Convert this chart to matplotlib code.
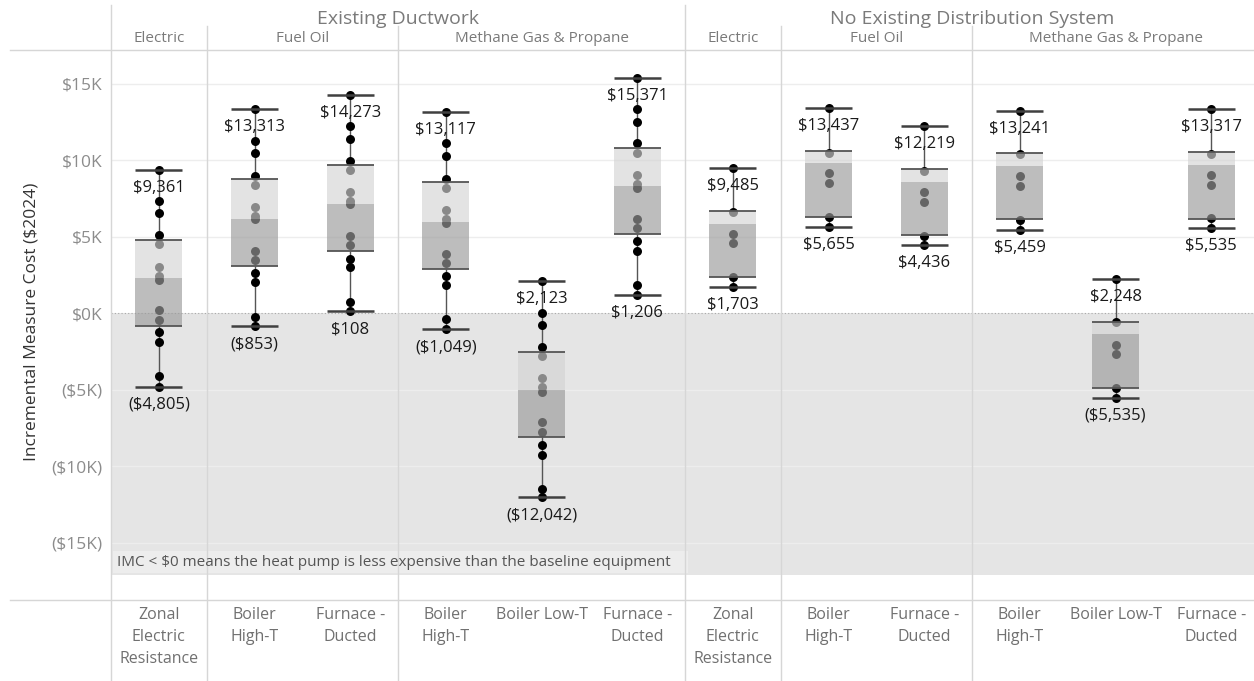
import matplotlib
matplotlib.use("Agg")
import matplotlib.pyplot as plt
import matplotlib.transforms as mtransforms
from matplotlib.patches import Rectangle
from matplotlib.ticker import FuncFormatter

plt.rcParams['font.family'] = ['Open Sans', 'DejaVu Sans']

# ---- data ----
systems = ["Existing Ductwork", "No Existing Distribution System"]
system_sizes = [6, 6]
fuels = ["Electric", "Fuel Oil", "Methane Gas & Propane",
         "Electric", "Fuel Oil", "Methane Gas & Propane"]
fuel_sizes = [1, 2, 3, 1, 2, 3]
equipment = ["Zonal\nElectric\nResistance", "Boiler\nHigh-T", "Furnace -\nDucted",
             "Boiler\nHigh-T", "Boiler Low-T", "Furnace -\nDucted",
             "Zonal\nElectric\nResistance", "Boiler\nHigh-T", "Furnace -\nDucted",
             "Boiler\nHigh-T", "Boiler Low-T", "Furnace -\nDucted"]

whisker_hi = [9361, 13313, 14273, 13117, 2123, 15371, 9485, 13437, 12219, 13241, 2248, 13317]
whisker_lo = [-4805, -853, 108, -1049, -12042, 1206, 1703, 5655, 4436, 5459, -5535, 5535]
q3 = [4787, 8751, 9708, 8544, -2514, 10799, 6700, 10603, 9407, 10453, -575, 10518]
median = [2306, 6177, 7138, 5983, -5021, 8315, 5811, 9799, 8577, 9622, -1380, 9668]
q1 = [-870, 3085, 4046, 2889, -8114, 5177, 2386, 6287, 5092, 6136, -4870, 6177]

points = [
    [9361, 7335, 6574, 5093, 4506, 3048, 2438, 2177, 196, -435, -1262, -1915, -4136, -4805],
    [13313, 11277, 10453, 8969, 8380, 6962, 6354, 6136, 4066, 3478, 2608, 2020, -229, -853],
    [14273, 12257, 11388, 9950, 9361, 7923, 7335, 7117, 5067, 4480, 3543, 3000, 732, 108],
    [13117, 11106, 10257, 8773, 8204, 6746, 6158, 5916, 3870, 3301, 2432, 1824, -399, -1049],
    [2123, -7, -771, -2229, -2798, -4256, -4844, -5131, -7133, -7746, -8616, -9269, -11492, -12042],
    [15371, 13327, 12519, 11106, 10453, 9014, 8446, 8204, 6158, 5589, 4740, 4086, 1824, 1206],
    [9485, 6620, 5177, 4589, 2390, 1703],
    [13437, 10500, 9185, 8531, 6300, 5655],
    [12219, 9300, 7943, 7289, 5067, 4436],
    [13241, 10400, 8969, 8335, 6093, 5459],
    [2248, -560, -2098, -2687, -4870, -5535],
    [13317, 10427, 9034, 8380, 6201, 5535],
]

yticks = [15000, 10000, 5000, 0, -5000, -10000, -15000]
band_bottom = -17100
note = "IMC < $0 means the heat pump is less expensive than the baseline equipment"


def money(v):
    return f"${v:,.0f}" if v >= 0 else f"(${-v:,.0f})"


def kfmt(v, pos):
    return f"${v/1000:.0f}K" if v >= 0 else f"(${-v/1000:.0f}K)"


fig = plt.figure(figsize=(12.54, 6.81), dpi=100)
# last column runs slightly past the right edge, like the reference
ax_w = 1148
ax = fig.add_axes([111/1254, 81/681, ax_w/1254, 550/681])
ax.set_xlim(-0.5, 11.5)
ax.set_ylim(-18750, 17200)
for s in ax.spines.values():
    s.set_visible(False)
ax.set_xticks([])
ax.set_yticks(yticks)
ax.yaxis.set_major_formatter(FuncFormatter(kfmt))
ax.tick_params(axis='y', length=0, pad=6, labelsize=12.5, labelcolor='#8c8c8c')

# shaded negative band + grid
ax.axhspan(band_bottom, 0, color='#e5e5e5', lw=0, zorder=0)
for t in yticks:
    if t == 0:
        ax.axhline(t, color='#a8a8a8', lw=0.8, ls=(0, (1, 2)), zorder=0.6)
    else:
        ax.axhline(t, color='#ededed', lw=1, zorder=0.5)

light = (212/255, 212/255, 212/255)
dark = (155/255, 155/255, 155/255)
bw = 0.49
for i in range(len(points)):
    ax.vlines(i, q3[i], whisker_hi[i], color='#555555', lw=1, zorder=1.5)
    ax.vlines(i, whisker_lo[i], q1[i], color='#555555', lw=1, zorder=1.5)
    ax.scatter([i] * len(points[i]), points[i], s=42, color='black', lw=0, zorder=2)
    ax.bar(i, q3[i] - median[i], bottom=median[i], width=bw, color=light, alpha=0.65, lw=0, zorder=3)
    ax.bar(i, median[i] - q1[i], bottom=q1[i], width=bw, color=dark, alpha=0.66, lw=0, zorder=3)
    ax.hlines([q3[i], q1[i]], i - bw/2, i + bw/2, color='#555555', lw=1.3, zorder=4)
    ax.hlines([whisker_hi[i], whisker_lo[i]], i - bw/2, i + bw/2, color='#404040', lw=1.8, zorder=4)
    ax.annotate(money(whisker_hi[i]), (i, whisker_hi[i]), xytext=(0, -18), textcoords='offset pixels',
                ha='center', va='center', fontsize=12, color='#1a1a1a', zorder=5)
    ax.annotate(money(whisker_lo[i]), (i, whisker_lo[i]), xytext=(0, -18), textcoords='offset pixels',
                ha='center', va='center', fontsize=12, color='#1a1a1a', zorder=5)

# note box
ax.add_patch(Rectangle((2/ax_w, 0.049), 575/ax_w, 0.04, transform=ax.transAxes,
                       facecolor='#ededed', edgecolor='none', zorder=1))
ax.text(6/ax_w, 0.069, note, transform=ax.transAxes, ha='left', va='center',
        fontsize=11, color='#555555', zorder=5)

# table structure lines
tr = mtransforms.blended_transform_factory(ax.transData, ax.transAxes)
line_c = '#d6d6d6'
x_start = (10 - 111) / ax_w
ax.plot([x_start, 1], [1, 1], transform=ax.transAxes, color=line_c, lw=1, clip_on=False, zorder=1)
ax.plot([x_start, 1], [0, 0], transform=ax.transAxes, color=line_c, lw=1, clip_on=False, zorder=1)

edge = -0.5
sys_edges = [edge]
for n in system_sizes:
    sys_edges.append(sys_edges[-1] + n)
fuel_edges = [edge]
for n in fuel_sizes:
    fuel_edges.append(fuel_edges[-1] + n)

for x in fuel_edges[:-1]:
    top = 1.082 if x in sys_edges else 1.044
    ax.plot([x, x], [-0.15, top], transform=tr, color=line_c, lw=1, clip_on=False, zorder=1)

for k, name in enumerate(systems):
    ax.text((sys_edges[k] + sys_edges[k+1]) / 2, 1.056, name, transform=tr, ha='center', va='center',
            fontsize=14, color='#7a7a7a')
for k, name in enumerate(fuels):
    ax.text((fuel_edges[k] + fuel_edges[k+1]) / 2, 1.02, name, transform=tr, ha='center', va='center',
            fontsize=11, color='#7a7a7a')
for i, name in enumerate(equipment):
    ax.text(i, -0.012, name, transform=tr, ha='center', va='top', fontsize=11.5,
            color='#707070', linespacing=1.5)

fig.text(32/1254, 1 - 322/681, "Incremental Measure Cost ($2024)", rotation=90,
         ha='center', va='center', fontsize=12.5, color='#333333')

fig.savefig("out.png", dpi=100)
